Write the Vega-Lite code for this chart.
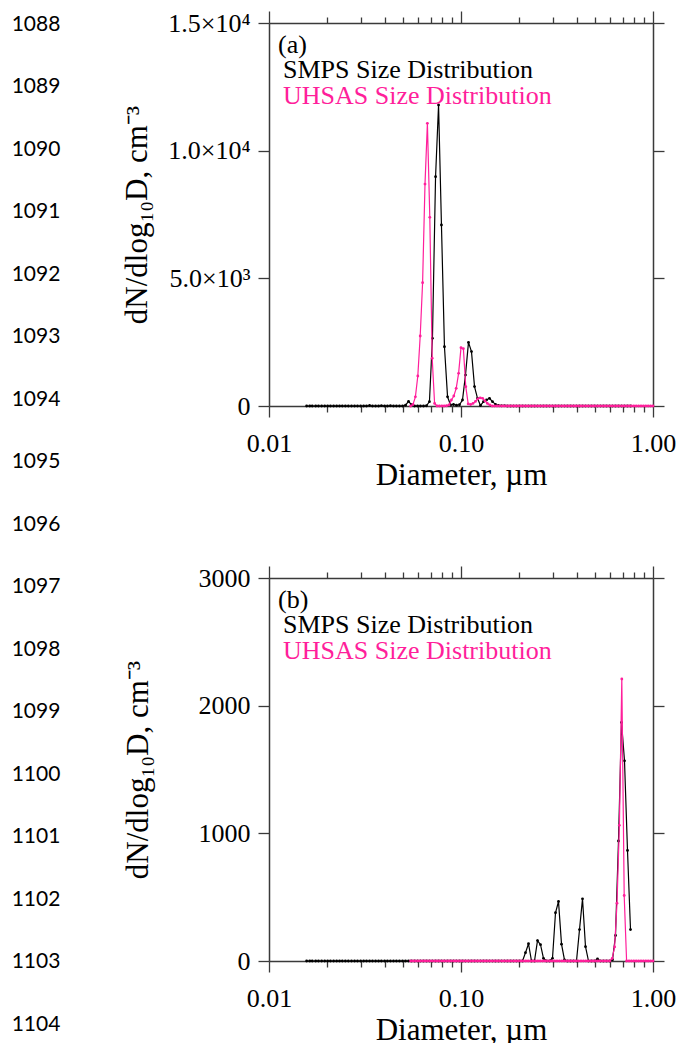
{
  "$schema": "https://vega.github.io/schema/vega-lite/v6.json",
  "padding": {"left": 0, "top": 10, "right": 5, "bottom": 0},
  "background": "white",
  "config": {
    "view": {"stroke": null},
    "font": "Liberation Serif",
    "axis": {"labelFont": "Liberation Serif", "titleFont": "Liberation Serif", "labelColor": "#000000", "titleColor": "#000000", "titleFontWeight": "normal", "grid": false, "domainColor": "#3a3a3a", "domainWidth": 1.5, "tickColor": "#3a3a3a", "tickWidth": 1.3, "labelFontSize": 26, "titleFontSize": 31, "labelOverlap": false, "labelFlush": false},
    "legend": {"labelFont": "Liberation Serif", "titleFont": "Liberation Serif"}
  },
  "datasets": {
    "ln": [{"n":1088},{"n":1089},{"n":1090},{"n":1091},{"n":1092},{"n":1093},{"n":1094},{"n":1095},{"n":1096},{"n":1097},{"n":1098},{"n":1099},{"n":1100},{"n":1101},{"n":1102},{"n":1103},{"n":1104}],
    "a": [
      {"s":"SMPS","d":0.0157,"v":0},{"s":"SMPS","d":0.0163,"v":0},{"s":"SMPS","d":0.0168,"v":0},{"s":"SMPS","d":0.0175,"v":0},{"s":"SMPS","d":0.0181,"v":0},{"s":"SMPS","d":0.0188,"v":0},{"s":"SMPS","d":0.0195,"v":0},{"s":"SMPS","d":0.0202,"v":0},{"s":"SMPS","d":0.0209,"v":0},{"s":"SMPS","d":0.0217,"v":0},
      {"s":"SMPS","d":0.0225,"v":0},{"s":"SMPS","d":0.0233,"v":0},{"s":"SMPS","d":0.0241,"v":0},{"s":"SMPS","d":0.025,"v":0},{"s":"SMPS","d":0.0259,"v":0},{"s":"SMPS","d":0.0269,"v":0},{"s":"SMPS","d":0.0279,"v":0},{"s":"SMPS","d":0.0289,"v":0},{"s":"SMPS","d":0.03,"v":0},{"s":"SMPS","d":0.0311,"v":0},
      {"s":"SMPS","d":0.0322,"v":0},{"s":"SMPS","d":0.0334,"v":20},{"s":"SMPS","d":0.0346,"v":0},{"s":"SMPS","d":0.0359,"v":0},{"s":"SMPS","d":0.0372,"v":0},{"s":"SMPS","d":0.0385,"v":15},{"s":"SMPS","d":0.04,"v":0},{"s":"SMPS","d":0.0414,"v":0},{"s":"SMPS","d":0.0429,"v":10},{"s":"SMPS","d":0.0445,"v":0},
      {"s":"SMPS","d":0.0461,"v":0},{"s":"SMPS","d":0.0478,"v":0},{"s":"SMPS","d":0.0496,"v":0},{"s":"SMPS","d":0.0514,"v":30},{"s":"SMPS","d":0.0533,"v":180},{"s":"SMPS","d":0.0552,"v":50},{"s":"SMPS","d":0.0573,"v":0},{"s":"SMPS","d":0.0594,"v":0},{"s":"SMPS","d":0.0615,"v":0},{"s":"SMPS","d":0.0638,"v":0},
      {"s":"SMPS","d":0.0661,"v":10},{"s":"SMPS","d":0.0685,"v":170},{"s":"SMPS","d":0.071,"v":2650},{"s":"SMPS","d":0.0737,"v":8980},{"s":"SMPS","d":0.0764,"v":11790},{"s":"SMPS","d":0.0791,"v":7090},{"s":"SMPS","d":0.082,"v":2320},{"s":"SMPS","d":0.0851,"v":360},{"s":"SMPS","d":0.0882,"v":40},{"s":"SMPS","d":0.0914,"v":60},
      {"s":"SMPS","d":0.0947,"v":30},{"s":"SMPS","d":0.0982,"v":50},{"s":"SMPS","d":0.1018,"v":235},{"s":"SMPS","d":0.1055,"v":1210},{"s":"SMPS","d":0.1094,"v":2490},{"s":"SMPS","d":0.1134,"v":2130},{"s":"SMPS","d":0.1176,"v":760},{"s":"SMPS","d":0.1219,"v":300},{"s":"SMPS","d":0.1263,"v":20},{"s":"SMPS","d":0.131,"v":170},
      {"s":"SMPS","d":0.1358,"v":235},{"s":"SMPS","d":0.1407,"v":300},{"s":"SMPS","d":0.1459,"v":170},{"s":"SMPS","d":0.1512,"v":65},{"s":"SMPS","d":0.1568,"v":20},{"s":"SMPS","d":0.1625,"v":10},{"s":"SMPS","d":0.1685,"v":15},{"s":"SMPS","d":0.1747,"v":0},{"s":"SMPS","d":0.1811,"v":0},{"s":"SMPS","d":0.1877,"v":0},
      {"s":"SMPS","d":0.1946,"v":0},{"s":"SMPS","d":0.2017,"v":0},{"s":"SMPS","d":0.2091,"v":0},{"s":"SMPS","d":0.2167,"v":0},{"s":"SMPS","d":0.2247,"v":0},{"s":"SMPS","d":0.2329,"v":0},{"s":"SMPS","d":0.2414,"v":0},{"s":"SMPS","d":0.2503,"v":0},{"s":"SMPS","d":0.2595,"v":0},{"s":"SMPS","d":0.269,"v":0},
      {"s":"SMPS","d":0.2788,"v":0},{"s":"SMPS","d":0.289,"v":0},{"s":"SMPS","d":0.2996,"v":0},{"s":"SMPS","d":0.3106,"v":0},{"s":"SMPS","d":0.322,"v":0},{"s":"SMPS","d":0.3338,"v":0},{"s":"SMPS","d":0.346,"v":0},{"s":"SMPS","d":0.3587,"v":0},{"s":"SMPS","d":0.3718,"v":0},{"s":"SMPS","d":0.3854,"v":0},
      {"s":"SMPS","d":0.3995,"v":0},{"s":"SMPS","d":0.4142,"v":0},{"s":"SMPS","d":0.4294,"v":0},{"s":"SMPS","d":0.4451,"v":0},{"s":"SMPS","d":0.4614,"v":0},{"s":"SMPS","d":0.4783,"v":0},{"s":"SMPS","d":0.4958,"v":0},{"s":"SMPS","d":0.514,"v":0},{"s":"SMPS","d":0.5328,"v":0},{"s":"SMPS","d":0.5523,"v":0},
      {"s":"SMPS","d":0.5725,"v":0},{"s":"SMPS","d":0.5935,"v":0},{"s":"SMPS","d":0.6153,"v":0},{"s":"SMPS","d":0.6378,"v":0},{"s":"SMPS","d":0.6612,"v":0},{"s":"SMPS","d":0.6854,"v":0},{"s":"SMPS","d":0.7105,"v":0},{"s":"SMPS","d":0.7365,"v":0},{"s":"SMPS","d":0.7635,"v":0},
      {"s":"UHSAS","d":0.05464,"v":0},{"s":"UHSAS","d":0.05623,"v":60},{"s":"UHSAS","d":0.05788,"v":360},{"s":"UHSAS","d":0.05957,"v":1175},{"s":"UHSAS","d":0.06131,"v":2740},{"s":"UHSAS","d":0.06309,"v":4830},{"s":"UHSAS","d":0.06494,"v":8690},{"s":"UHSAS","d":0.06683,"v":11070},{"s":"UHSAS","d":0.06879,"v":7390},{"s":"UHSAS","d":0.07079,"v":1870},
      {"s":"UHSAS","d":0.07286,"v":100},{"s":"UHSAS","d":0.07499,"v":0},{"s":"UHSAS","d":0.07718,"v":0},{"s":"UHSAS","d":0.07943,"v":0},{"s":"UHSAS","d":0.08175,"v":0},{"s":"UHSAS","d":0.08414,"v":10},{"s":"UHSAS","d":0.0866,"v":40},{"s":"UHSAS","d":0.08913,"v":235},{"s":"UHSAS","d":0.09173,"v":392},{"s":"UHSAS","d":0.09441,"v":692},
      {"s":"UHSAS","d":0.09716,"v":1280},{"s":"UHSAS","d":0.1,"v":2284},{"s":"UHSAS","d":0.1029,"v":2245},{"s":"UHSAS","d":0.1059,"v":757},{"s":"UHSAS","d":0.109,"v":80},{"s":"UHSAS","d":0.1122,"v":60},{"s":"UHSAS","d":0.1155,"v":100},{"s":"UHSAS","d":0.1189,"v":180},{"s":"UHSAS","d":0.1223,"v":280},{"s":"UHSAS","d":0.1259,"v":320},
      {"s":"UHSAS","d":0.1296,"v":300},{"s":"UHSAS","d":0.1334,"v":200},{"s":"UHSAS","d":0.1372,"v":100},{"s":"UHSAS","d":0.1413,"v":40},{"s":"UHSAS","d":0.1454,"v":0},{"s":"UHSAS","d":0.1496,"v":0},{"s":"UHSAS","d":0.154,"v":0},{"s":"UHSAS","d":0.1585,"v":0},{"s":"UHSAS","d":0.1631,"v":0},{"s":"UHSAS","d":0.1679,"v":0},
      {"s":"UHSAS","d":0.1728,"v":0},{"s":"UHSAS","d":0.1778,"v":0},{"s":"UHSAS","d":0.183,"v":0},{"s":"UHSAS","d":0.1884,"v":0},{"s":"UHSAS","d":0.1939,"v":0},{"s":"UHSAS","d":0.1995,"v":0},{"s":"UHSAS","d":0.2054,"v":0},{"s":"UHSAS","d":0.2113,"v":0},{"s":"UHSAS","d":0.2175,"v":0},{"s":"UHSAS","d":0.2239,"v":0},
      {"s":"UHSAS","d":0.2304,"v":0},{"s":"UHSAS","d":0.2371,"v":0},{"s":"UHSAS","d":0.2441,"v":0},{"s":"UHSAS","d":0.2512,"v":0},{"s":"UHSAS","d":0.2585,"v":0},{"s":"UHSAS","d":0.2661,"v":0},{"s":"UHSAS","d":0.2738,"v":0},{"s":"UHSAS","d":0.2818,"v":0},{"s":"UHSAS","d":0.2901,"v":0},{"s":"UHSAS","d":0.2985,"v":0},
      {"s":"UHSAS","d":0.3073,"v":0},{"s":"UHSAS","d":0.3162,"v":0},{"s":"UHSAS","d":0.3255,"v":0},{"s":"UHSAS","d":0.335,"v":0},{"s":"UHSAS","d":0.3447,"v":0},{"s":"UHSAS","d":0.3548,"v":0},{"s":"UHSAS","d":0.3652,"v":0},{"s":"UHSAS","d":0.3758,"v":0},{"s":"UHSAS","d":0.3868,"v":0},{"s":"UHSAS","d":0.3981,"v":0},
      {"s":"UHSAS","d":0.4097,"v":0},{"s":"UHSAS","d":0.4217,"v":0},{"s":"UHSAS","d":0.434,"v":0},{"s":"UHSAS","d":0.4467,"v":0},{"s":"UHSAS","d":0.4597,"v":0},{"s":"UHSAS","d":0.4732,"v":0},{"s":"UHSAS","d":0.487,"v":0},{"s":"UHSAS","d":0.5012,"v":0},{"s":"UHSAS","d":0.5158,"v":0},{"s":"UHSAS","d":0.5309,"v":0},
      {"s":"UHSAS","d":0.5464,"v":0},{"s":"UHSAS","d":0.5623,"v":0},{"s":"UHSAS","d":0.5788,"v":0},{"s":"UHSAS","d":0.5957,"v":0},{"s":"UHSAS","d":0.6131,"v":0},{"s":"UHSAS","d":0.631,"v":0},{"s":"UHSAS","d":0.6494,"v":0},{"s":"UHSAS","d":0.6683,"v":0},{"s":"UHSAS","d":0.6879,"v":0},{"s":"UHSAS","d":0.7079,"v":0},
      {"s":"UHSAS","d":0.7286,"v":0},{"s":"UHSAS","d":0.7499,"v":0},{"s":"UHSAS","d":0.7718,"v":0},{"s":"UHSAS","d":0.7943,"v":0},{"s":"UHSAS","d":0.8175,"v":0},{"s":"UHSAS","d":0.8414,"v":0},{"s":"UHSAS","d":0.866,"v":0},{"s":"UHSAS","d":0.8913,"v":0},{"s":"UHSAS","d":0.9173,"v":0},{"s":"UHSAS","d":0.9441,"v":0},
      {"s":"UHSAS","d":0.9716,"v":0},{"s":"UHSAS","d":1.0,"v":0}
    ],
    "b": [
      {"s":"SMPS","d":0.0157,"v":0},{"s":"SMPS","d":0.0163,"v":0},{"s":"SMPS","d":0.0168,"v":0},{"s":"SMPS","d":0.0175,"v":0},{"s":"SMPS","d":0.0181,"v":0},{"s":"SMPS","d":0.0188,"v":0},{"s":"SMPS","d":0.0195,"v":0},{"s":"SMPS","d":0.0202,"v":0},{"s":"SMPS","d":0.0209,"v":0},{"s":"SMPS","d":0.0217,"v":0},
      {"s":"SMPS","d":0.0225,"v":0},{"s":"SMPS","d":0.0233,"v":0},{"s":"SMPS","d":0.0241,"v":0},{"s":"SMPS","d":0.025,"v":0},{"s":"SMPS","d":0.0259,"v":0},{"s":"SMPS","d":0.0269,"v":0},{"s":"SMPS","d":0.0279,"v":0},{"s":"SMPS","d":0.0289,"v":0},{"s":"SMPS","d":0.03,"v":0},{"s":"SMPS","d":0.0311,"v":0},
      {"s":"SMPS","d":0.0322,"v":0},{"s":"SMPS","d":0.0334,"v":0},{"s":"SMPS","d":0.0346,"v":0},{"s":"SMPS","d":0.0359,"v":0},{"s":"SMPS","d":0.0372,"v":0},{"s":"SMPS","d":0.0385,"v":0},{"s":"SMPS","d":0.04,"v":0},{"s":"SMPS","d":0.0414,"v":0},{"s":"SMPS","d":0.0429,"v":0},{"s":"SMPS","d":0.0445,"v":0},
      {"s":"SMPS","d":0.0461,"v":0},{"s":"SMPS","d":0.0478,"v":0},{"s":"SMPS","d":0.0496,"v":0},{"s":"SMPS","d":0.0514,"v":0},{"s":"SMPS","d":0.0533,"v":0},{"s":"SMPS","d":0.0552,"v":0},{"s":"SMPS","d":0.0573,"v":0},{"s":"SMPS","d":0.0594,"v":0},{"s":"SMPS","d":0.0615,"v":0},{"s":"SMPS","d":0.0638,"v":0},
      {"s":"SMPS","d":0.0661,"v":0},{"s":"SMPS","d":0.0685,"v":0},{"s":"SMPS","d":0.071,"v":0},{"s":"SMPS","d":0.0737,"v":0},{"s":"SMPS","d":0.0764,"v":0},{"s":"SMPS","d":0.0791,"v":0},{"s":"SMPS","d":0.082,"v":0},{"s":"SMPS","d":0.0851,"v":0},{"s":"SMPS","d":0.0882,"v":0},{"s":"SMPS","d":0.0914,"v":0},
      {"s":"SMPS","d":0.0947,"v":0},{"s":"SMPS","d":0.0982,"v":0},{"s":"SMPS","d":0.1018,"v":0},{"s":"SMPS","d":0.1055,"v":0},{"s":"SMPS","d":0.1094,"v":0},{"s":"SMPS","d":0.1134,"v":0},{"s":"SMPS","d":0.1176,"v":0},{"s":"SMPS","d":0.1219,"v":0},{"s":"SMPS","d":0.1263,"v":0},{"s":"SMPS","d":0.131,"v":0},
      {"s":"SMPS","d":0.1358,"v":0},{"s":"SMPS","d":0.1407,"v":0},{"s":"SMPS","d":0.1459,"v":0},{"s":"SMPS","d":0.1512,"v":0},{"s":"SMPS","d":0.1568,"v":0},{"s":"SMPS","d":0.1625,"v":0},{"s":"SMPS","d":0.1685,"v":0},{"s":"SMPS","d":0.1747,"v":0},{"s":"SMPS","d":0.1811,"v":0},{"s":"SMPS","d":0.1877,"v":0},
      {"s":"SMPS","d":0.1946,"v":0},{"s":"SMPS","d":0.2017,"v":0},{"s":"SMPS","d":0.2091,"v":0},{"s":"SMPS","d":0.2167,"v":65},{"s":"SMPS","d":0.2247,"v":135},{"s":"SMPS","d":0.2329,"v":0},{"s":"SMPS","d":0.2414,"v":0},{"s":"SMPS","d":0.2503,"v":160},{"s":"SMPS","d":0.2595,"v":128},{"s":"SMPS","d":0.269,"v":21},
      {"s":"SMPS","d":0.2788,"v":0},{"s":"SMPS","d":0.289,"v":0},{"s":"SMPS","d":0.2996,"v":21},{"s":"SMPS","d":0.3106,"v":378},{"s":"SMPS","d":0.322,"v":466},{"s":"SMPS","d":0.3338,"v":132},{"s":"SMPS","d":0.346,"v":8},{"s":"SMPS","d":0.3587,"v":0},{"s":"SMPS","d":0.3718,"v":0},{"s":"SMPS","d":0.3854,"v":0},
      {"s":"SMPS","d":0.3995,"v":0},{"s":"SMPS","d":0.4142,"v":246},{"s":"SMPS","d":0.4294,"v":487},{"s":"SMPS","d":0.4451,"v":112},{"s":"SMPS","d":0.4614,"v":0},{"s":"SMPS","d":0.4783,"v":0},{"s":"SMPS","d":0.4958,"v":0},{"s":"SMPS","d":0.514,"v":16},{"s":"SMPS","d":0.5328,"v":0},{"s":"SMPS","d":0.5523,"v":0},
      {"s":"SMPS","d":0.5725,"v":0},{"s":"SMPS","d":0.5935,"v":0},{"s":"SMPS","d":0.6153,"v":10},{"s":"SMPS","d":0.6378,"v":200},{"s":"SMPS","d":0.6612,"v":940},{"s":"SMPS","d":0.6854,"v":1869},{"s":"SMPS","d":0.7105,"v":1568},{"s":"SMPS","d":0.7365,"v":866},{"s":"SMPS","d":0.7635,"v":246},
      {"s":"UHSAS","d":0.05464,"v":0},{"s":"UHSAS","d":0.05623,"v":0},{"s":"UHSAS","d":0.05788,"v":0},{"s":"UHSAS","d":0.05957,"v":0},{"s":"UHSAS","d":0.06131,"v":0},{"s":"UHSAS","d":0.06309,"v":0},{"s":"UHSAS","d":0.06494,"v":0},{"s":"UHSAS","d":0.06683,"v":0},{"s":"UHSAS","d":0.06879,"v":0},{"s":"UHSAS","d":0.07079,"v":0},
      {"s":"UHSAS","d":0.07286,"v":0},{"s":"UHSAS","d":0.07499,"v":0},{"s":"UHSAS","d":0.07718,"v":0},{"s":"UHSAS","d":0.07943,"v":0},{"s":"UHSAS","d":0.08175,"v":0},{"s":"UHSAS","d":0.08414,"v":0},{"s":"UHSAS","d":0.0866,"v":0},{"s":"UHSAS","d":0.08913,"v":0},{"s":"UHSAS","d":0.09173,"v":0},{"s":"UHSAS","d":0.09441,"v":0},
      {"s":"UHSAS","d":0.09716,"v":0},{"s":"UHSAS","d":0.1,"v":0},{"s":"UHSAS","d":0.1029,"v":0},{"s":"UHSAS","d":0.1059,"v":0},{"s":"UHSAS","d":0.109,"v":0},{"s":"UHSAS","d":0.1122,"v":0},{"s":"UHSAS","d":0.1155,"v":0},{"s":"UHSAS","d":0.1189,"v":0},{"s":"UHSAS","d":0.1223,"v":0},{"s":"UHSAS","d":0.1259,"v":0},
      {"s":"UHSAS","d":0.1296,"v":0},{"s":"UHSAS","d":0.1334,"v":0},{"s":"UHSAS","d":0.1372,"v":0},{"s":"UHSAS","d":0.1413,"v":0},{"s":"UHSAS","d":0.1454,"v":0},{"s":"UHSAS","d":0.1496,"v":0},{"s":"UHSAS","d":0.154,"v":0},{"s":"UHSAS","d":0.1585,"v":0},{"s":"UHSAS","d":0.1631,"v":0},{"s":"UHSAS","d":0.1679,"v":0},
      {"s":"UHSAS","d":0.1728,"v":0},{"s":"UHSAS","d":0.1778,"v":0},{"s":"UHSAS","d":0.183,"v":0},{"s":"UHSAS","d":0.1884,"v":0},{"s":"UHSAS","d":0.1939,"v":0},{"s":"UHSAS","d":0.1995,"v":0},{"s":"UHSAS","d":0.2054,"v":0},{"s":"UHSAS","d":0.2113,"v":0},{"s":"UHSAS","d":0.2175,"v":0},{"s":"UHSAS","d":0.2239,"v":0},
      {"s":"UHSAS","d":0.2304,"v":0},{"s":"UHSAS","d":0.2371,"v":0},{"s":"UHSAS","d":0.2441,"v":0},{"s":"UHSAS","d":0.2512,"v":0},{"s":"UHSAS","d":0.2585,"v":0},{"s":"UHSAS","d":0.2661,"v":0},{"s":"UHSAS","d":0.2738,"v":0},{"s":"UHSAS","d":0.2818,"v":0},{"s":"UHSAS","d":0.2901,"v":0},{"s":"UHSAS","d":0.2985,"v":0},
      {"s":"UHSAS","d":0.3073,"v":0},{"s":"UHSAS","d":0.3162,"v":0},{"s":"UHSAS","d":0.3255,"v":0},{"s":"UHSAS","d":0.335,"v":0},{"s":"UHSAS","d":0.3447,"v":0},{"s":"UHSAS","d":0.3548,"v":0},{"s":"UHSAS","d":0.3652,"v":0},{"s":"UHSAS","d":0.3758,"v":0},{"s":"UHSAS","d":0.3868,"v":0},{"s":"UHSAS","d":0.3981,"v":0},
      {"s":"UHSAS","d":0.4097,"v":0},{"s":"UHSAS","d":0.4217,"v":0},{"s":"UHSAS","d":0.434,"v":0},{"s":"UHSAS","d":0.4467,"v":0},{"s":"UHSAS","d":0.4597,"v":0},{"s":"UHSAS","d":0.4732,"v":0},{"s":"UHSAS","d":0.487,"v":0},{"s":"UHSAS","d":0.5012,"v":0},{"s":"UHSAS","d":0.5158,"v":0},{"s":"UHSAS","d":0.5309,"v":0},
      {"s":"UHSAS","d":0.5464,"v":0},{"s":"UHSAS","d":0.5623,"v":0},{"s":"UHSAS","d":0.5788,"v":0},{"s":"UHSAS","d":0.5957,"v":0},{"s":"UHSAS","d":0.6131,"v":20},{"s":"UHSAS","d":0.631,"v":110},{"s":"UHSAS","d":0.6494,"v":453},{"s":"UHSAS","d":0.6683,"v":1063},{"s":"UHSAS","d":0.6879,"v":2209},{"s":"UHSAS","d":0.7079,"v":513},
      {"s":"UHSAS","d":0.7286,"v":0},{"s":"UHSAS","d":0.7499,"v":0},{"s":"UHSAS","d":0.7718,"v":0},{"s":"UHSAS","d":0.7943,"v":0},{"s":"UHSAS","d":0.8175,"v":0},{"s":"UHSAS","d":0.8414,"v":0},{"s":"UHSAS","d":0.866,"v":0},{"s":"UHSAS","d":0.8913,"v":0},{"s":"UHSAS","d":0.9173,"v":0},{"s":"UHSAS","d":0.9441,"v":0},
      {"s":"UHSAS","d":0.9716,"v":0},{"s":"UHSAS","d":1.0,"v":0}
    ]
  },
  "hconcat": [
    {
      "width": 72,
      "height": 1002,
      "data": {"name": "ln"},
      "mark": {"type": "text", "font": "Lato", "fontSize": 21, "align": "center", "baseline": "middle", "color": "#000000"},
      "encoding": {
        "y": {"field": "n", "type": "quantitative", "scale": {"domain": [1087.976, 1104], "reverse": true, "nice": false, "zero": false}, "axis": null},
        "text": {"field": "n", "type": "quantitative", "format": "d"}
      }
    },
    {
      "spacing": 75,
      "resolve": {"scale": {"color": "independent"}, "legend": {"color": "independent"}},
      "vconcat": [
        {
          "width": 384,
          "height": 383,
          "data": {"name": "a"},
          "resolve": {"axis": {"x": "independent", "y": "independent"}},
          "layer": [
            {
              "transform": [{"filter": "datum.s == 'SMPS'"}],
              "mark": {"type": "line", "strokeWidth": 1.2, "point": {"filled": true, "size": 8}},
              "encoding": {
                "x": {"field": "d", "type": "quantitative", "scale": {"type": "log", "domain": [0.01, 1], "nice": false},
                  "axis": {"orient": "bottom", "values": [0.01,0.02,0.03,0.04,0.05,0.06,0.07,0.08,0.09,0.1,0.2,0.3,0.4,0.5,0.6,0.7,0.8,0.9,1],
                    "labelExpr": "datum.value == 0.01 || datum.value == 0.1 || datum.value == 1 ? format(datum.value, '.2f') : ''",
                    "tickSize": {"condition": {"test": "datum.value == 0.01 || datum.value == 0.1 || datum.value == 1", "value": 11}, "value": 6},
                    "labelPadding": 13, "title": "Diameter, µm", "titlePadding": 4}},
                "y": {"field": "v", "type": "quantitative", "scale": {"domain": [0, 15000], "nice": false},
                  "axis": {"orient": "left", "values": [0, 5000, 10000, 15000],
                    "labelExpr": "datum.value == 0 ? '0' : datum.value == 5000 ? '5.0×10³' : datum.value == 10000 ? '1.0×10⁴' : '1.5×10⁴'",
                    "tickSize": 11, "labelPadding": 8, "title": "dN/dlog₁₀D, cm⁻³", "titlePadding": 14}},
                "color": {"field": "s", "type": "nominal", "scale": {"domain": ["SMPS", "UHSAS"], "range": ["#000000", "#ff1f9b"]},
                  "legend": {"orient": "top-left", "title": "(a)", "titleFontSize": 26, "titleFontWeight": "normal", "titleColor": "#000000", "titlePadding": -1,
                    "labelFontSize": 26, "labelExpr": "datum.label + ' Size Distribution'", "labelColor": {"expr": "datum.value == 'UHSAS' ? '#ff1f9b' : '#000000'"},
                    "symbolSize": 0, "symbolOpacity": 0, "symbolStrokeWidth": 0, "symbolFillColor": "transparent", "symbolStrokeColor": "transparent", "labelOffset": -21, "offset": 9, "padding": 0, "rowPadding": -7, "labelLimit": 500}}
              }
            },
            {
              "transform": [{"filter": "datum.s == 'UHSAS'"}],
              "mark": {"type": "line", "strokeWidth": 1.2, "point": {"filled": true, "size": 8}},
              "encoding": {
                "x": {"field": "d", "type": "quantitative", "scale": {"type": "log", "domain": [0.01, 1], "nice": false},
                  "axis": {"orient": "top", "values": [0.01,0.02,0.03,0.04,0.05,0.06,0.07,0.08,0.09,0.1,0.2,0.3,0.4,0.5,0.6,0.7,0.8,0.9,1],
                    "labels": false, "title": null,
                    "tickSize": {"condition": {"test": "datum.value == 0.01 || datum.value == 0.1 || datum.value == 1", "value": 12}, "value": 6}}},
                "y": {"field": "v", "type": "quantitative", "scale": {"domain": [0, 15000], "nice": false},
                  "axis": {"orient": "right", "values": [0, 5000, 10000, 15000], "labels": false, "title": null, "tickSize": 11}},
                "color": {"field": "s", "type": "nominal"}
              }
            }
          ]
        },
        {
          "width": 384,
          "height": 383,
          "data": {"name": "b"},
          "resolve": {"axis": {"x": "independent", "y": "independent"}},
          "layer": [
            {
              "transform": [{"filter": "datum.s == 'SMPS'"}],
              "mark": {"type": "line", "strokeWidth": 1.2, "point": {"filled": true, "size": 8}},
              "encoding": {
                "x": {"field": "d", "type": "quantitative", "scale": {"type": "log", "domain": [0.01, 1], "nice": false},
                  "axis": {"orient": "bottom", "values": [0.01,0.02,0.03,0.04,0.05,0.06,0.07,0.08,0.09,0.1,0.2,0.3,0.4,0.5,0.6,0.7,0.8,0.9,1],
                    "labelExpr": "datum.value == 0.01 || datum.value == 0.1 || datum.value == 1 ? format(datum.value, '.2f') : ''",
                    "tickSize": {"condition": {"test": "datum.value == 0.01 || datum.value == 0.1 || datum.value == 1", "value": 11}, "value": 6},
                    "labelPadding": 13, "title": "Diameter, µm", "titlePadding": 4}},
                "y": {"field": "v", "type": "quantitative", "scale": {"domain": [0, 3000], "nice": false},
                  "axis": {"orient": "left", "values": [0, 1000, 2000, 3000], "format": "d",
                    "tickSize": 11, "labelPadding": 8, "title": "dN/dlog₁₀D, cm⁻³", "titlePadding": 44}},
                "color": {"field": "s", "type": "nominal", "scale": {"domain": ["SMPS", "UHSAS"], "range": ["#000000", "#ff1f9b"]},
                  "legend": {"orient": "top-left", "title": "(b)", "titleFontSize": 26, "titleFontWeight": "normal", "titleColor": "#000000", "titlePadding": -1,
                    "labelFontSize": 26, "labelExpr": "datum.label + ' Size Distribution'", "labelColor": {"expr": "datum.value == 'UHSAS' ? '#ff1f9b' : '#000000'"},
                    "symbolSize": 0, "symbolOpacity": 0, "symbolStrokeWidth": 0, "symbolFillColor": "transparent", "symbolStrokeColor": "transparent", "labelOffset": -21, "offset": 9, "padding": 0, "rowPadding": -7, "labelLimit": 500}}
              }
            },
            {
              "transform": [{"filter": "datum.s == 'UHSAS'"}],
              "mark": {"type": "line", "strokeWidth": 1.2, "point": {"filled": true, "size": 8}},
              "encoding": {
                "x": {"field": "d", "type": "quantitative", "scale": {"type": "log", "domain": [0.01, 1], "nice": false},
                  "axis": {"orient": "top", "values": [0.01,0.02,0.03,0.04,0.05,0.06,0.07,0.08,0.09,0.1,0.2,0.3,0.4,0.5,0.6,0.7,0.8,0.9,1],
                    "labels": false, "title": null,
                    "tickSize": {"condition": {"test": "datum.value == 0.01 || datum.value == 0.1 || datum.value == 1", "value": 12}, "value": 6}}},
                "y": {"field": "v", "type": "quantitative", "scale": {"domain": [0, 3000], "nice": false},
                  "axis": {"orient": "right", "values": [0, 1000, 2000, 3000], "labels": false, "title": null, "tickSize": 11}},
                "color": {"field": "s", "type": "nominal"}
              }
            }
          ]
        }
      ]
    }
  ],
  "spacing": 49
}
